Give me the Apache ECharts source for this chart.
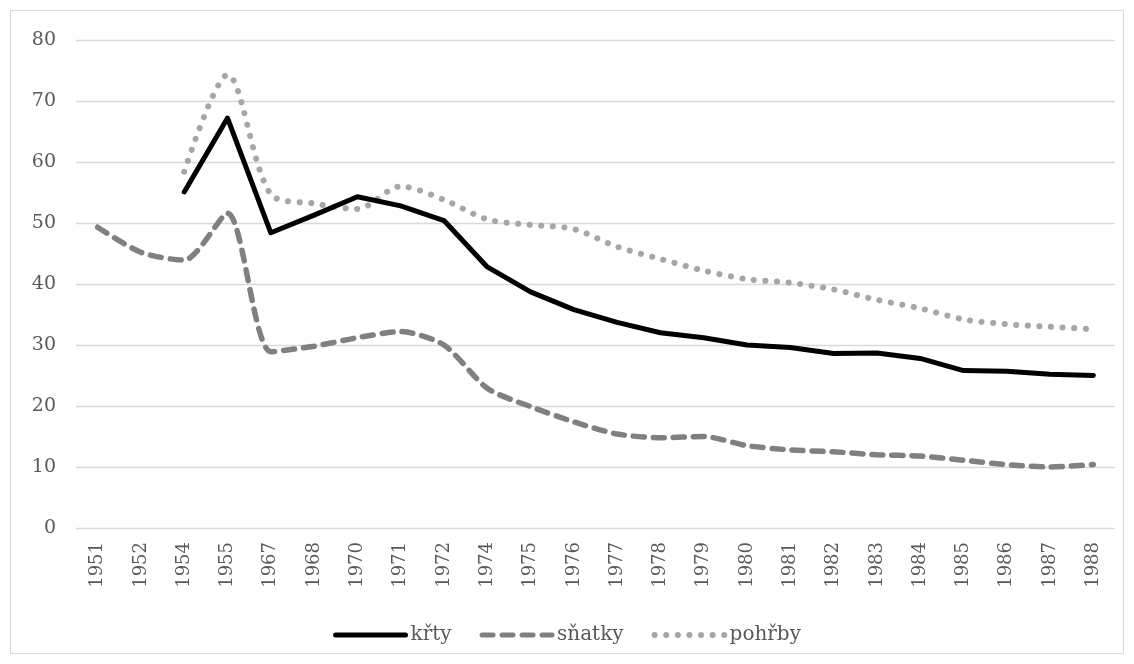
<!DOCTYPE html>
<html>
<head>
<meta charset="utf-8">
<script src="https://cdn.jsdelivr.net/npm/echarts@6/dist/echarts.min.js"></script>
<style>
  * { margin: 0; padding: 0; }
  body { background: #fff; }
</style>
</head>
<body>
<!-- kontejner pro graf -->
<div id="main" style="width: 1134px;height: 664px;"></div>
<script>
  var roky = ['1951','1952','1954','1955','1967','1968','1970','1971','1972','1974','1975','1976',
    '1977','1978','1979','1980','1981','1982','1983','1984','1985','1986','1987','1988'];
  var krty = [null, null, 55.1, 67.2, 48.4, 51.3, 54.3, 52.8, 50.4, 42.8, 38.7, 35.8,
    33.7, 32.0, 31.2, 30.0, 29.6, 28.6, 28.7, 27.8, 25.8, 25.7, 25.2, 25.0];
  var snatky = [49.3, 45.2, 43.9, 51.6, 28.9, 29.8, 31.2, 32.2, 30.0, 22.9, 19.9, 17.4,
    15.4, 14.8, 15.0, 13.5, 12.8, 12.5, 12.0, 11.8, 11.1, 10.4, 10.0, 10.4];
  var pohrby = [null, null, 58.4, 74.3, 54.7, 53.2, 52.3, 56.0, 53.8, 50.6, 49.7, 49.0,
    46.1, 44.1, 42.2, 40.8, 40.2, 39.1, 37.4, 36.0, 34.2, 33.4, 33.0, 32.6];
  var yTicks = [0, 80, 10]; // min, max, krok

  var font = '"DejaVu Serif", "Liberation Serif", serif';
  var mycharts = echarts.init(document.getElementById('main'));
  var option = {
    animation: false,
    textStyle: { fontFamily: font },
    graphic: [{
      type: 'rect',
      shape: { x: 10.5, y: 10.5, width: 1113, height: 643 },
      style: { fill: 'none', stroke: '#d9d9d9', lineWidth: 1 },
      silent: true
    }],
    legend: {
      top: 620,
      left: 'center',
      itemWidth: 70,
      itemHeight: 14,
      itemGap: 28,
      itemStyle: { opacity: 0 },
      textStyle: { color: '#595959', fontSize: 20, fontFamily: font },
      data: [
        { name: 'křty', lineStyle: { width: 5 } },
        { name: 'sňatky', lineStyle: { width: 5 } },
        { name: 'pohřby', lineStyle: { width: 6 } }
      ]
    },
    grid: {
      left: 76,
      right: 19,
      top: 40,
      bottom: 136
    },
    xAxis: {
      type: 'category',
      data: roky,
      boundaryGap: true,
      axisLine: { show: false },
      axisTick: { show: false },
      axisLabel: {
        rotate: 90,
        interval: 0,
        margin: 14,
        color: '#595959',
        fontSize: 18,
        fontFamily: font
      }
    },
    yAxis: {
      type: 'value',
      min: yTicks[0],
      max: yTicks[1],
      interval: yTicks[2],
      axisLine: { show: false },
      axisTick: { show: false },
      splitLine: { lineStyle: { color: '#d9d9d9', width: 1.3 } },
      axisLabel: { margin: 20, color: '#595959', fontSize: 19, fontFamily: font }
    },
    series: [
      {
        name: 'křty',
        type: 'line',
        data: krty,
        symbol: 'none',
        connectNulls: false,
        lineStyle: { color: '#000', width: 5, cap: 'round', join: 'round' },
        itemStyle: { color: '#000' },
        z: 4
      },
      {
        name: 'sňatky',
        type: 'line',
        data: snatky,
        symbol: 'none',
        smooth: 0.25,
        lineStyle: { color: '#808080', width: 5.5, type: [11, 9], cap: 'round' },
        itemStyle: { color: '#808080' },
        z: 3
      },
      {
        name: 'pohřby',
        type: 'line',
        data: pohrby,
        symbol: 'none',
        smooth: 0.3,
        lineStyle: { color: '#a6a6a6', width: 6, type: [0.1, 11.5], cap: 'round' },
        itemStyle: { color: '#a6a6a6' },
        z: 2
      }
    ]
  };
  mycharts.clear();
  mycharts.setOption(option);
</script>
</body>
</html>
